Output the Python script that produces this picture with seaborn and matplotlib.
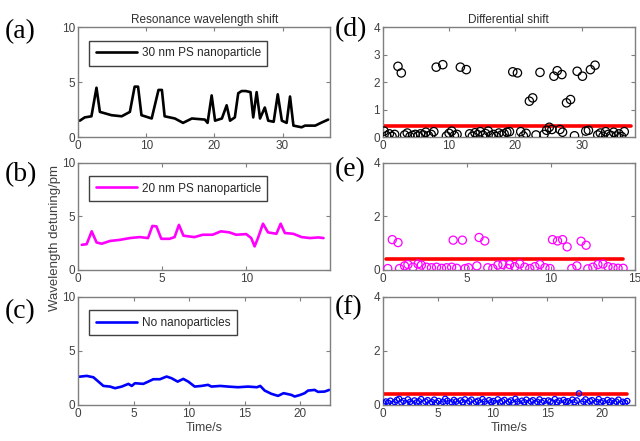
import numpy as np
import pandas as pd
import matplotlib
matplotlib.use('Agg')
import matplotlib.pyplot as plt
import seaborn as sns

sns.set_style('white')
plt.rcParams['font.family'] = ['Liberation Sans', 'DejaVu Sans']

# (a) resonance wavelength shift, 30 nm PS nanoparticle
t_a = [0.25, 0.98, 1.96, 2.7, 3.2, 4.9, 6.4, 7.6, 8.3, 8.8, 9.3, 10.8, 11.8, 12.3, 12.7,
       14.2, 15.4, 16.7, 18.6, 19.0, 19.6, 20.1, 21.1, 21.8, 22.3, 23.0, 23.5, 24.0, 24.6,
       25.3, 25.7, 26.2, 26.7, 27.4, 27.9, 28.7, 29.3, 29.9, 30.6, 31.1, 31.6, 32.8, 33.3,
       34.8, 35.8, 36.7]
y_a = [1.5, 1.8, 1.9, 4.5, 2.3, 2.0, 1.9, 2.3, 4.6, 4.6, 2.0, 1.7, 4.3, 4.3, 1.9,
       1.7, 1.3, 1.7, 1.6, 1.3, 3.8, 1.5, 1.7, 2.9, 1.5, 1.8, 4.0, 4.2, 4.2,
       4.1, 1.8, 4.1, 1.7, 2.7, 1.5, 1.4, 3.9, 1.5, 1.3, 3.7, 1.05, 0.9, 1.05,
       1.05, 1.35, 1.6]

# (b) 20 nm PS nanoparticle
t_b = [0.22, 0.51, 0.81, 1.1, 1.4, 1.9, 2.48, 3.08, 3.67, 4.16, 4.42, 4.66, 4.95, 5.44,
       5.74, 6.0, 6.27, 6.92, 7.42, 8.0, 8.5, 9.0, 9.4, 10.0, 10.3, 10.5, 10.7, 11.0,
       11.3, 11.8, 12.05, 12.3, 12.8, 13.3, 13.8, 14.3, 14.6]
y_b = [2.34, 2.4, 3.6, 2.56, 2.44, 2.7, 2.8, 2.97, 3.06, 2.97, 4.1, 4.06, 2.9, 2.9,
       3.06, 4.2, 3.19, 3.06, 3.28, 3.28, 3.6, 3.5, 3.28, 3.34, 2.97, 2.19, 2.97, 4.31,
       3.5, 3.37, 4.31, 3.44, 3.37, 3.06, 2.97, 3.03, 2.97]

# (c) no nanoparticles
t_c = [0.09, 0.78, 1.38, 1.83, 2.28, 2.88, 3.33, 3.93, 4.53, 4.83, 5.12, 5.87, 6.32,
       6.77, 7.37, 7.97, 8.42, 8.96, 9.47, 9.92, 10.5, 11.1, 11.7, 12.0, 12.8, 13.5,
       14.4, 15.3, 16.1, 16.4, 16.8, 17.4, 18.0, 18.5, 19.2, 19.5, 20.0, 20.4, 20.7,
       21.3, 21.6, 22.2, 22.6]
y_c = [2.6, 2.68, 2.55, 2.15, 1.75, 1.69, 1.54, 1.69, 1.94, 1.75, 2.0, 1.94, 2.15,
       2.37, 2.37, 2.62, 2.46, 2.15, 2.4, 2.15, 1.69, 1.75, 1.85, 1.69, 1.75, 1.69,
       1.63, 1.69, 1.63, 1.75, 1.32, 1.02, 0.83, 1.08, 0.92, 0.77, 0.92, 1.08, 1.32,
       1.38, 1.2, 1.23, 1.38]

# (d) differential shift, 30 nm
t_d = [2.3, 2.8, 8.06, 9.05, 11.7, 12.6, 19.6, 20.3, 22.1, 22.6, 23.7, 25.8, 26.3, 27.0,
       27.7, 28.3, 29.3, 30.1, 31.3, 32.0,
       0.2, 0.6, 1.0, 1.4, 1.8, 3.3, 3.7, 4.1, 4.5, 4.9, 5.3, 5.7, 6.1, 6.5, 6.9, 7.3, 7.7,
       9.6, 10.0, 10.4, 10.8, 11.2, 13.1, 13.5, 13.9, 14.3, 14.7, 15.1, 15.5, 15.9, 16.3,
       16.7, 17.1, 17.5, 17.9, 18.3, 18.7, 19.1, 20.8, 21.2, 21.6, 23.1, 24.3, 24.7, 25.1,
       25.5, 26.7, 27.1, 28.9, 30.6, 31.0, 32.4, 32.8, 33.2, 33.6, 34.0, 34.4, 34.8, 35.2,
       35.6, 36.0, 36.4]
y_d = [2.58, 2.34, 2.55, 2.64, 2.55, 2.46, 2.38, 2.34, 1.31, 1.43, 2.36, 2.22, 2.42, 2.28,
       1.25, 1.37, 2.4, 2.22, 2.46, 2.62,
       0.22, 0.05, 0.12, 0.03, 0.1, 0.08, 0.15, 0.02, 0.06, 0.1, 0.04, 0.12, 0.08, 0.18,
       0.05, 0.1, 0.2, 0.04, 0.14, 0.22, 0.06, 0.1, 0.12, 0.03, 0.16, 0.09, 0.2, 0.07, 0.13,
       0.22, 0.05, 0.1, 0.02, 0.15, 0.08, 0.12, 0.18, 0.2, 0.2, 0.04, 0.14, 0.08, 0.1, 0.25,
       0.36, 0.28, 0.28, 0.18, 0.05, 0.22, 0.25, 0.08, 0.15, 0.03, 0.2, 0.1, 0.06, 0.18,
       0.04, 0.12, 0.02, 0.2]

# (e) differential shift, 20 nm
t_e = [0.57, 0.91, 4.19, 4.74, 5.73, 6.07, 10.1, 10.4, 10.7, 10.97, 11.8, 12.1,
       0.3, 1.0, 1.3, 1.5, 1.8, 2.1, 2.3, 2.6, 2.9, 3.2, 3.5, 3.8, 4.1, 4.4, 4.9, 5.1, 5.6,
       6.25, 6.55, 6.85, 7.15, 7.45, 7.55, 7.85, 8.15, 8.45, 8.75, 9.05, 9.35, 9.65, 9.95,
       11.25, 11.55, 12.2, 12.5, 12.8, 13.1, 13.4, 13.7, 14.0, 14.3]
y_e = [1.13, 1.02, 1.11, 1.11, 1.21, 1.08, 1.13, 1.08, 1.13, 0.86, 1.07, 0.92,
       0.05, 0.05, 0.15, 0.2, 0.1, 0.22, 0.18, 0.1, 0.08, 0.1, 0.06, 0.08, 0.1, 0.06, 0.05,
       0.08, 0.15, 0.08, 0.05, 0.18, 0.2, 0.05, 0.2, 0.12, 0.22, 0.1, 0.05, 0.12, 0.2, 0.08,
       0.05, 0.05, 0.15, 0.04, 0.1, 0.2, 0.22, 0.12, 0.08, 0.06, 0.06]

# (f) differential shift, no nanoparticles
t_f = [0.1, 0.3, 0.5, 0.7, 0.9, 1.1, 1.3, 1.5, 1.7, 1.9, 2.1, 2.3, 2.5, 2.7, 2.9, 3.1,
       3.3, 3.5, 3.7, 3.9, 4.1, 4.3, 4.5, 4.7, 4.9, 5.1, 5.3, 5.5, 5.7, 5.9, 6.1, 6.3,
       6.5, 6.7, 6.9, 7.1, 7.3, 7.5, 7.7, 7.9, 8.1, 8.3, 8.5, 8.7, 8.9, 9.1, 9.3, 9.5,
       9.7, 9.9, 10.1, 10.3, 10.5, 10.7, 10.9, 11.1, 11.3, 11.5, 11.7, 11.9, 12.1, 12.3,
       12.5, 12.7, 12.9, 13.1, 13.3, 13.5, 13.7, 13.9, 14.1, 14.3, 14.5, 14.7, 14.9, 15.1,
       15.3, 15.5, 15.7, 15.9, 16.1, 16.3, 16.5, 16.7, 16.9, 17.1, 17.3, 17.5, 17.7, 17.9,
       18.1, 18.3, 18.5, 18.7, 18.9, 19.1, 19.3, 19.5, 19.7, 19.9, 20.1, 20.3, 20.5, 20.7,
       20.9, 21.1, 21.3, 21.5, 21.7, 21.9, 22.1, 22.3]
y_f = [0.05, 0.12, 0.08, 0.15, 0.03, 0.10, 0.18, 0.22, 0.09, 0.14,
       0.06, 0.20, 0.11, 0.04, 0.16, 0.09, 0.13, 0.21, 0.07, 0.12,
       0.17, 0.05, 0.10, 0.19, 0.08, 0.14, 0.03, 0.11, 0.22, 0.15,
       0.06, 0.09, 0.18, 0.12, 0.04, 0.16, 0.10, 0.20, 0.07, 0.13,
       0.19, 0.05, 0.11, 0.15, 0.08, 0.21, 0.12, 0.03, 0.17, 0.10,
       0.14, 0.06, 0.20, 0.09, 0.13, 0.18, 0.05, 0.11, 0.16, 0.08,
       0.22, 0.12, 0.04, 0.15, 0.10, 0.19, 0.07, 0.13, 0.17, 0.06,
       0.11, 0.20, 0.09, 0.14, 0.03, 0.16, 0.12, 0.08, 0.21, 0.10,
       0.15, 0.05, 0.18, 0.11, 0.13, 0.07, 0.19, 0.10, 0.16, 0.42,
       0.04, 0.12, 0.20, 0.08, 0.14, 0.17, 0.06, 0.11, 0.21, 0.09,
       0.13, 0.05, 0.18, 0.10, 0.15, 0.07, 0.12, 0.19, 0.04, 0.11,
       0.08, 0.14]

threshold = 0.4
thr_d = [0.15, 37.4]
thr_e = [0.2, 14.3]
thr_f = [0.05, 22.3]

labels = ['30 nm PS nanoparticle', '20 nm PS nanoparticle', 'No nanoparticles']
colors = ['black', '#ff00ff', '#0000ff']

fig = plt.figure(figsize=(6.4, 4.41), dpi=100)
left_x, right_x, w = 0.122, 0.598, 0.394
rows = [(0.689, 0.249), (0.388, 0.243), (0.082, 0.245)]
axL = [fig.add_axes([left_x, b, w, h]) for b, h in rows]
axR = [fig.add_axes([right_x, b, w, h]) for b, h in rows]

line_data = [(t_a, y_a), (t_b, y_b), (t_c, y_c)]
scat_data = [(t_d, y_d), (t_e, y_e), (t_f, y_f)]
thr_x = [thr_d, thr_e, thr_f]
xlims_l = [37, 15, 22.7]
xlims_r = [38, 15, 23]
msizes = [36, 34, 15]

for i in range(3):
    ax = axL[i]
    t, y = line_data[i]
    sns.lineplot(x=t, y=y, color=colors[i], lw=1.9, label=labels[i], ax=ax)
    ax.set_xlim(0, xlims_l[i])
    ax.set_ylim(0, 10)
    ax.set_yticks([0, 5, 10])
    leg = ax.legend(loc='upper left', fontsize=8.5, handlelength=3.5, borderpad=0.55,
                    handletextpad=0.4, fancybox=False, framealpha=1,
                    bbox_to_anchor=(0.02, 0.93))
    leg.get_frame().set_edgecolor('#404040')
    leg.get_frame().set_linewidth(1.0)

    ax = axR[i]
    t, y = scat_data[i]
    sns.lineplot(x=thr_x[i], y=[threshold, threshold], color='#ff0000', lw=2.6, ax=ax)
    sns.scatterplot(x=t, y=y, marker='o', s=msizes[i], facecolor='none',
                    edgecolor=colors[i], linewidth=0.9, ax=ax, zorder=3)
    ax.set_xlim(0, xlims_r[i])
    ax.set_ylim(0, 4)
    ax.set_yticks([0, 1, 2, 3, 4] if i == 0 else [0, 2, 4])

for ax in axL + axR:
    for s in ax.spines.values():
        s.set_color('#7f7f7f')
        s.set_linewidth(1.0)
    ax.tick_params(direction='in', length=3, width=0.8, color='#7f7f7f',
                   labelsize=8.5, labelcolor='#404040', pad=2,
                   top=True, right=True, bottom=True, left=True)

axL[0].set_xticks([0, 10, 20, 30])
axL[1].set_xticks([0, 5, 10])
axL[2].set_xticks([0, 5, 10, 15, 20])
axR[0].set_xticks([0, 10, 20, 30])
axR[1].set_xticks([0, 5, 10, 15])
axR[2].set_xticks([0, 5, 10, 15, 20])

axL[0].set_title('Resonance wavelength shift', fontsize=8.5, color='#303030', pad=3)
axR[0].set_title('Differential shift', fontsize=8.5, color='#303030', pad=3)
axL[2].set_xlabel('Time/s', fontsize=9, color='#404040', labelpad=2)
axR[2].set_xlabel('Time/s', fontsize=9, color='#404040', labelpad=2)
fig.text(0.086, 0.46, 'Wavelength detuning/pm', rotation=90, fontsize=9.5,
         color='#404040', ha='center', va='center')

panel = ['(a)', '(b)', '(c)', '(d)', '(e)', '(f)']
px = [0.008, 0.008, 0.008, 0.523, 0.523, 0.523]
py = [32, 175, 312, 30, 170, 308]
for lab, x, y in zip(panel, px, py):
    fig.text(x, 1 - y / 441, lab, fontsize=20, family='Liberation Serif',
             ha='left', va='center', color='black')

fig.savefig('out.png', dpi=100)
